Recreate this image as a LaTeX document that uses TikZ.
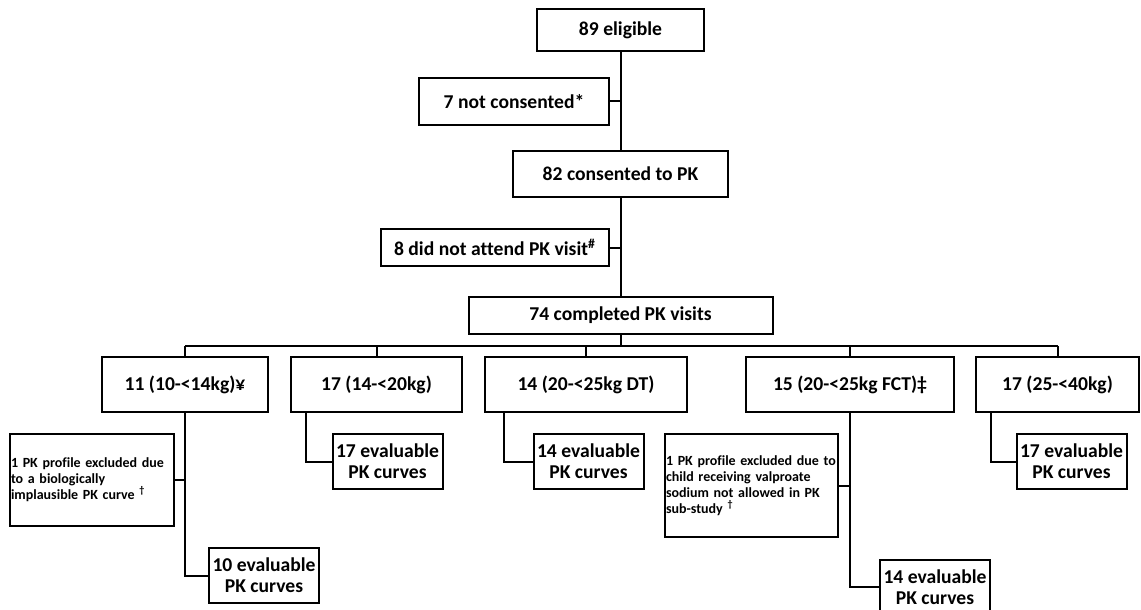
\documentclass[tikz,border=0pt]{standalone}
\usepackage{fontspec}
\setmainfont{Carlito}[Ligatures=CommonOff]

\begin{document}
\begin{tikzpicture}[x=0.5pt, y=-0.5pt, line width=1pt,
    box/.style = {draw, inner sep=0pt, align=center, font=\fontsize{9.8}{10.5}\selectfont\bfseries},
    evalbox/.style = {box, minimum width=55pt, minimum height=27.5pt},
    wbox/.style = {box, minimum height=27.5pt},
    note/.style = {draw, inner sep=0.5pt, align=left, font=\fontsize{7}{8}\selectfont\bfseries}]
  \useasboundingbox (0,0) rectangle (1141,610);
  % main column
  \node[box, minimum width=83.5pt, minimum height=21pt] (elig) at (620.5,30) {89 eligible};
  \node[box, minimum width=95pt, minimum height=23.5pt] (notcons) at (514,101.5) {7 not consented*};
  \node[box, minimum width=107.5pt, minimum height=23pt] (cons) at (620.5,174) {82 consented to PK};
  \node[box, minimum width=114pt, minimum height=18.5pt] (noattend) at (495,247.5) {8 did not attend PK visit\textsuperscript{\#}};
  \node[box, minimum width=152pt, minimum height=18.5pt] (done) at (620.5,315.5) {74 completed PK visits};
  \coordinate (bus) at (620.5,346);
  % weight bands
  \node[wbox, minimum width=83pt] (w1) at (185,384.5) {11 (10-<14kg)¥};
  \node[wbox, minimum width=85.5pt] (w2) at (376.5,384.5) {17 (14-<20kg)};
  \node[wbox, minimum width=101pt] (w3) at (586,384.5) {14 (20-<25kg DT)};
  \node[wbox, minimum width=104pt] (w4) at (850,384.5) {15 (20-<25kg FCT)‡};
  \node[wbox, minimum width=81.5pt] (w5) at (1057.5,384.5) {17 (25-<40kg)};
  % exclusions and evaluable curves
  \node[note, text width=81pt, minimum height=46pt] (ex1) at (92,480)
    {1 PK profile excluded due\\to a biologically\\implausible PK curve \textsuperscript{†}};
  \node[evalbox] (ev1) at (264,575.5) {10 evaluable\\PK curves};
  \node[evalbox] (ev2) at (387.5,461.5) {17 evaluable\\PK curves};
  \node[evalbox] (ev3) at (588.5,461.5) {14 evaluable\\PK curves};
  \node[note, text width=85.5pt, minimum height=51.5pt] (ex4) at (751.5,485.5)
    {1 PK profile excluded due to\\child receiving valproate\\sodium not allowed in PK\\sub-study \textsuperscript{†}};
  \node[evalbox] (ev4) at (935,587) {14 evaluable\\PK curves};
  \node[evalbox] (ev5) at (1071.5,461.5) {17 evaluable\\PK curves};

  \draw (elig) -- (cons);
  \draw (notcons.east) -- (notcons.east -| elig.south);
  \draw (cons) -- (done);
  \draw (noattend.east) -- (noattend.east -| cons.south);
  \draw (done.south) -- (bus);
  \draw (w1.north |- bus) -- (w5.north |- bus);
  \foreach \w in {w1,w2,w3,w4,w5}
    \draw (\w.north) -- (\w.north |- bus);
  \draw (w1.south) |- (ev1.west);
  \draw (ex1.east) -- (ex1.east -| w1.south);
  \draw (w2.south west) ++(16,0) |- (ev2.west);
  \draw (w3.south west) ++(20,0) |- (ev3.west);
  \draw (w4.south) |- (ev4.west);
  \draw (ex4.east) -- (ex4.east -| w4.south);
  \draw (w5.south west) ++(16,0) |- (ev5.west);
\end{tikzpicture}
\end{document}
